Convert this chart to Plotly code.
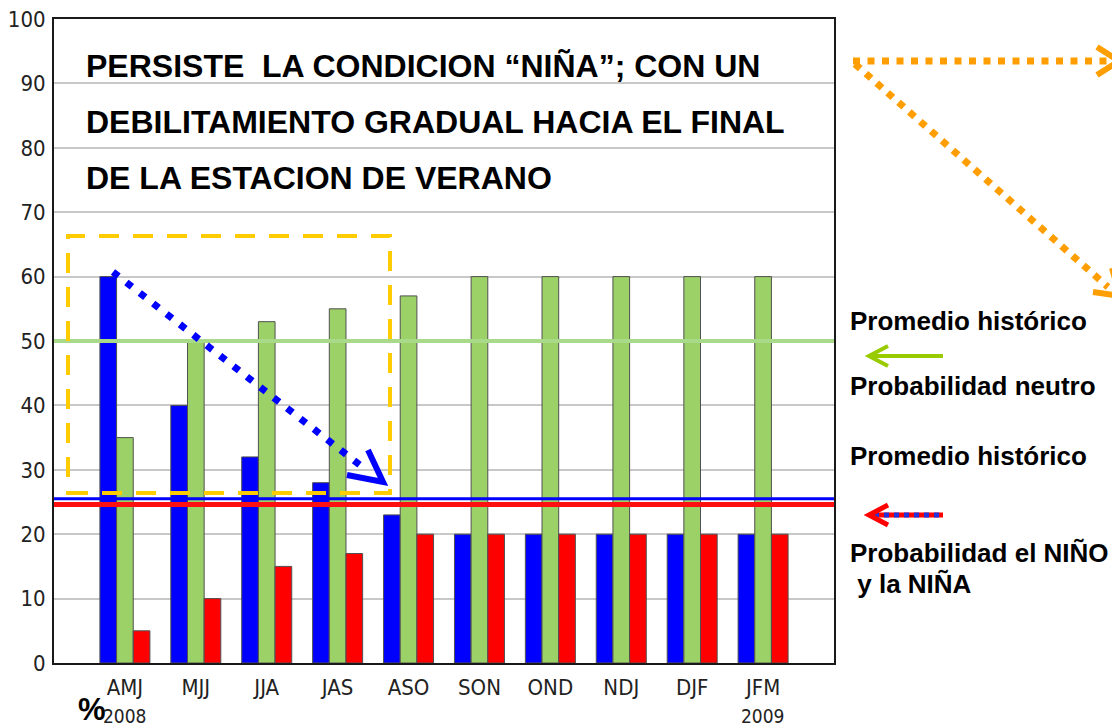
import plotly.graph_objects as go

# ---------------- data ----------------
seasons = ["AMJ", "MJJ", "JJA", "JAS", "ASO", "SON", "OND", "NDJ", "DJF", "JFM"]
prob_nina = [60, 40, 32, 28, 23, 20, 20, 20, 20, 20]
prob_neutral = [35, 50, 53, 55, 57, 60, 60, 60, 60, 60]
prob_nino = [5, 10, 15, 17, 20, 20, 20, 20, 20, 20]
clim_neutral = 50
clim_nina = 25.5
clim_nino = 24.6
y_ticks = [0, 10, 20, 30, 40, 50, 60, 70, 80, 90, 100]
year_labels = {"AMJ": "2008", "JFM": "2009"}

title_lines = [
    "PERSISTE  LA CONDICION \u201cNI\u00d1A\u201d; CON UN",
    "DEBILITAMIENTO GRADUAL HACIA EL FINAL",
    "DE LA ESTACION DE VERANO",
]
side_texts = [
    "Promedio hist\u00f3rico",
    "Probabilidad neutro",
    "Promedio hist\u00f3rico",
    "Probabilidad el NI\u00d1O",
    " y la NI\u00d1A",
]

# ---------------- layout geometry ----------------
# the page body adds an 8px offset, so work in page pixels and shift
OFF = 8
W, H = 1120 - OFF, 726 - OFF
L, R, T, B = 54, 834, 19, 663  # plot area in page pixels


def px(x):
    return (x - L) / (R - L)


def py(y):
    return (B - y) / (B - T)


NARROW = "Liberation Sans Narrow, Arial Narrow, DejaVu Sans Condensed, Liberation Sans, Arial, sans-serif"
BOLD = "Liberation Sans, Arial, Helvetica, sans-serif"

fig = go.Figure()
outline = dict(color="#505050", width=1)
fig.add_trace(go.Bar(x=seasons, y=prob_nina, marker=dict(color="#0000FF", line=outline), name="La Ni\u00f1a"))
fig.add_trace(go.Bar(x=seasons, y=prob_neutral, marker=dict(color="#9BD166", line=outline), name="Neutro"))
fig.add_trace(go.Bar(x=seasons, y=prob_nino, marker=dict(color="#FF0000", line=outline), name="El Ni\u00f1o"))

shapes = []
# climatology lines
shapes.append(dict(type="line", xref="paper", yref="y", x0=0, x1=1, y0=clim_neutral, y1=clim_neutral,
                   line=dict(color="#A8DA8A", width=4), layer="above"))
shapes.append(dict(type="line", xref="paper", yref="y", x0=0, x1=1, y0=clim_nino, y1=clim_nino,
                   line=dict(color="#FF1010", width=5), layer="above"))
shapes.append(dict(type="line", xref="paper", yref="y", x0=0, x1=1, y0=clim_nina, y1=clim_nina,
                   line=dict(color="#0000FF", width=3), layer="above"))

# yellow dashed box
shapes.append(dict(type="rect", xref="paper", yref="paper", x0=px(68), x1=px(390), y0=py(493), y1=py(236),
                   line=dict(color="#FFCC00", width=4, dash="20px,14px"), fillcolor="rgba(0,0,0,0)",
                   layer="above"))

# blue dotted arrow
shapes.append(dict(type="line", xref="paper", yref="paper", x0=px(113), y0=py(272), x1=px(361), y1=py(466),
                   line=dict(color="#0000FF", width=7, dash="7px,10px"), layer="above"))
shapes.append(dict(type="path", xref="paper", yref="paper",
                   path=f"M {px(368)} {py(450)} L {px(383)} {py(482)} L {px(347)} {py(475)}",
                   line=dict(color="#0000FF", width=6), layer="above"))

ORANGE = "#FF9E00"
# orange dotted arrows
shapes.append(dict(type="line", xref="paper", yref="paper", x0=px(853), y0=py(61), x1=px(1112), y1=py(61),
                   line=dict(color=ORANGE, width=7, dash="7px,7.5px")))
shapes.append(dict(type="path", xref="paper", yref="paper",
                   path=f"M {px(1097)} {py(47)} L {px(1119)} {py(61)} L {px(1097)} {py(75)}",
                   line=dict(color=ORANGE, width=6)))
shapes.append(dict(type="line", xref="paper", yref="paper", x0=px(855), y0=py(64), x1=px(1108), y1=py(287),
                   line=dict(color=ORANGE, width=7, dash="7px,7.5px")))
shapes.append(dict(type="path", xref="paper", yref="paper",
                   path=f"M {px(1112)} {py(268)} L {px(1120)} {py(296)} L {px(1093)} {py(292)}",
                   line=dict(color=ORANGE, width=6)))

# green arrow (legend)
shapes.append(dict(type="line", xref="paper", yref="paper", x0=px(870), y0=py(356), x1=px(943), y1=py(356),
                   line=dict(color="#99CC00", width=4)))
shapes.append(dict(type="path", xref="paper", yref="paper",
                   path=f"M {px(888)} {py(346)} L {px(869)} {py(356)} L {px(888)} {py(366)}",
                   line=dict(color="#99CC00", width=4)))
# red/blue arrow (legend)
shapes.append(dict(type="line", xref="paper", yref="paper", x0=px(870), y0=py(515), x1=px(943), y1=py(515),
                   line=dict(color="#FF0000", width=5)))
shapes.append(dict(type="line", xref="paper", yref="paper", x0=px(874), y0=py(515), x1=px(943), y1=py(515),
                   line=dict(color="#2233DD", width=5, dash="5px,5px")))
shapes.append(dict(type="path", xref="paper", yref="paper",
                   path=f"M {px(888)} {py(505)} L {px(869)} {py(515)} L {px(888)} {py(525)}",
                   line=dict(color="#FF0000", width=5)))

annotations = []
title_y = [66, 122, 178]
for txt, yy in zip(title_lines, title_y):
    annotations.append(dict(text=f"<b>{txt}</b>", xref="paper", yref="paper", x=px(84), y=py(yy),
                            xanchor="left", yanchor="middle", showarrow=False,
                            font=dict(family=BOLD, size=32, color="#000000")))

side_pos = [(848, 321), (848, 386), (848, 456), (848, 553), (848, 584)]
for txt, (xx, yy) in zip(side_texts, side_pos):
    annotations.append(dict(text=f"<b>{txt}</b>", xref="paper", yref="paper", x=px(xx), y=py(yy),
                            xanchor="left", yanchor="middle", showarrow=False,
                            font=dict(family=BOLD, size=26, color="#000000")))

for cat, yr in year_labels.items():
    annotations.append(dict(text=yr, xref="x", yref="paper", x=cat, y=py(716),
                            xanchor="center", yanchor="middle", showarrow=False,
                            font=dict(family=NARROW, size=19, color="#222222")))

annotations.append(dict(text="<b>%</b>", xref="paper", yref="paper", x=px(92), y=py(709),
                        xanchor="center", yanchor="middle", showarrow=False,
                        font=dict(family=BOLD, size=31, color="#000000")))

fig.update_layout(
    width=W, height=H,
    margin=dict(l=L - OFF, r=(W + OFF) - R, t=T - OFF, b=(H + OFF) - B, pad=0, autoexpand=False),
    paper_bgcolor="white", plot_bgcolor="white",
    barmode="group", bargap=0.295, bargroupgap=0,
    showlegend=False,
    shapes=shapes, annotations=annotations,
    xaxis=dict(type="category", range=[-1, 10], showgrid=False, showline=True, mirror=True,
               linecolor="#1a1a1a", linewidth=2, ticks="", ticklabelstandoff=4, automargin=False,
               ticklabeloverflow="allow",
               tickfont=dict(family=NARROW, size=22, color="#222222"), fixedrange=True),
    yaxis=dict(range=[0, 100], tickvals=y_ticks, showgrid=True, gridcolor="#C8C8C8", gridwidth=2,
               showline=True, mirror=True, linecolor="#1a1a1a", linewidth=2, ticks="",
               ticklabelstandoff=2, zeroline=False, automargin=False, ticklabeloverflow="allow",
               tickfont=dict(family=NARROW, size=22, color="#222222"), fixedrange=True),
)

fig.write_html("out.html")
